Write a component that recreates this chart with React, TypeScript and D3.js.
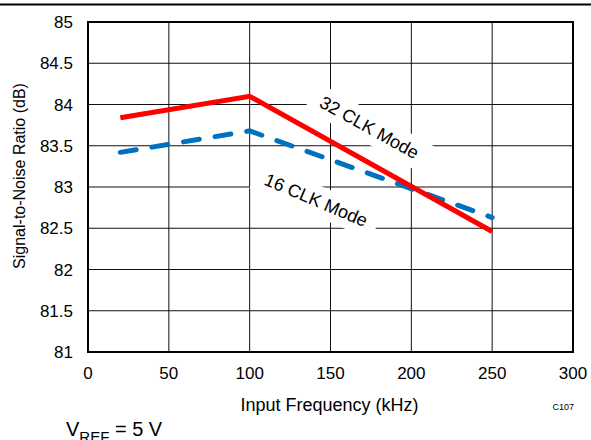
import React, { useEffect, useRef } from 'react';
import * as d3 from 'd3';

const xTicks = [0, 50, 100, 150, 200, 250, 300];
const yTicks = [81, 81.5, 82, 82.5, 83, 83.5, 84, 84.5, 85];

const freq = [20, 100, 250];
const snr32 = [83.84, 84.1, 82.46];
const snr16 = [83.42, 83.68, 82.63];

const labels = [
  { text: '32 CLK Mode', x: 174, y: 83.72, angle: 29 },
  { text: '16 CLK Mode', x: 141, y: 82.84, angle: 23 },
];

export default function App() {
  const svgRef = useRef<SVGSVGElement>(null);

  useEffect(() => {
    if (!svgRef.current) return;
    const W = 591;
    const H = 440;
    const margin = { top: 22, right: 18, bottom: 88, left: 88 };
    const width = W - margin.left - margin.right;
    const height = H - margin.top - margin.bottom;

    const root = d3.select(svgRef.current);
    root.selectAll('*').remove();

    // top rule
    root.append('line')
      .attr('x1', 0).attr('x2', W)
      .attr('y1', 4.5).attr('y2', 4.5)
      .attr('stroke', '#000').attr('stroke-width', 2);

    const svg = root.append('g')
      .attr('transform', `translate(${margin.left},${margin.top})`);

    const x = d3.scaleLinear().domain([0, 300]).range([0, width]);
    const y = d3.scaleLinear().domain([81, 85]).range([height, 0]);

    // grid
    svg.append('g')
      .selectAll('line')
      .data(xTicks.slice(1, -1))
      .enter()
      .append('line')
      .attr('x1', d => x(d)).attr('x2', d => x(d))
      .attr('y1', 0).attr('y2', height)
      .attr('stroke', '#111').attr('stroke-width', 1);

    svg.append('g')
      .selectAll('line')
      .data(yTicks.slice(1, -1))
      .enter()
      .append('line')
      .attr('x1', 0).attr('x2', width)
      .attr('y1', d => y(d)).attr('y2', d => y(d))
      .attr('stroke', '#111').attr('stroke-width', 1);

    const font = 'Liberation Sans, Arial, sans-serif';

    // white boxes behind the labels
    labels.forEach(l => {
      const g = svg.append('g')
        .attr('transform', `translate(${x(l.x)},${y(l.y)}) rotate(${l.angle})`);
      g.append('rect')
        .attr('x', -66).attr('y', -15)
        .attr('width', 132).attr('height', 30)
        .attr('fill', '#fff');
    });

    const line = d3.line<number>()
      .x((_, i) => x(freq[i]))
      .y(d => y(d));

    svg.append('path')
      .datum(snr16)
      .attr('fill', 'none')
      .attr('stroke', '#0070c0')
      .attr('stroke-width', 5)
      .attr('stroke-linecap', 'round')
      .attr('stroke-dasharray', '16 16')
      .attr('d', line);

    svg.append('path')
      .datum(snr32)
      .attr('fill', 'none')
      .attr('stroke', '#ff0000')
      .attr('stroke-width', 5)
      .attr('stroke-linejoin', 'miter')
      .attr('d', line);

    labels.forEach(l => {
      svg.append('text')
        .attr('transform', `translate(${x(l.x)},${y(l.y)}) rotate(${l.angle})`)
        .attr('text-anchor', 'middle')
        .attr('dominant-baseline', 'central')
        .attr('font-family', font)
        .attr('font-size', 18)
        .attr('fill', '#000')
        .text(l.text);
    });

    // frame
    svg.append('rect')
      .attr('x', 0).attr('y', 0)
      .attr('width', width).attr('height', height)
      .attr('fill', 'none')
      .attr('stroke', '#000')
      .attr('stroke-width', 2);

    // tick labels
    svg.append('g')
      .selectAll('text')
      .data(xTicks)
      .enter()
      .append('text')
      .attr('x', d => x(d))
      .attr('y', height + 27)
      .attr('text-anchor', 'middle')
      .attr('font-family', font)
      .attr('font-size', 17)
      .text(d => d);

    svg.append('g')
      .selectAll('text')
      .data(yTicks)
      .enter()
      .append('text')
      .attr('x', -15)
      .attr('y', d => y(d))
      .attr('dy', '0.36em')
      .attr('text-anchor', 'end')
      .attr('font-family', font)
      .attr('font-size', 17)
      .text(d => d);

    // axis titles
    svg.append('text')
      .attr('x', width / 2 - 1)
      .attr('y', height + 59)
      .attr('text-anchor', 'middle')
      .attr('font-family', font)
      .attr('font-size', 18)
      .text('Input Frequency (kHz)');

    svg.append('text')
      .attr('transform', `translate(${-63},${height / 2 - 11}) rotate(-90)`)
      .attr('text-anchor', 'middle')
      .attr('font-family', font)
      .attr('font-size', 16)
      .text('Signal-to-Noise Ratio (dB)');

    svg.append('text')
      .attr('x', width + 1)
      .attr('y', height + 58)
      .attr('text-anchor', 'end')
      .attr('font-family', font)
      .attr('font-size', 9)
      .text('C107');

    // note
    const note = root.append('text')
      .attr('x', 66)
      .attr('y', 436)
      .attr('font-family', font)
      .attr('font-size', 20);
    note.append('tspan').text('V');
    note.append('tspan').attr('font-size', 15).attr('dy', 6).text('REF');
    note.append('tspan').attr('dy', -6).text(' = 5 V');
  }, []);

  return (
    <svg
      ref={svgRef}
      width={591}
      height={440}
      style={{ position: 'absolute', left: 0, top: 0, background: '#fff' }}
    />
  );
}
